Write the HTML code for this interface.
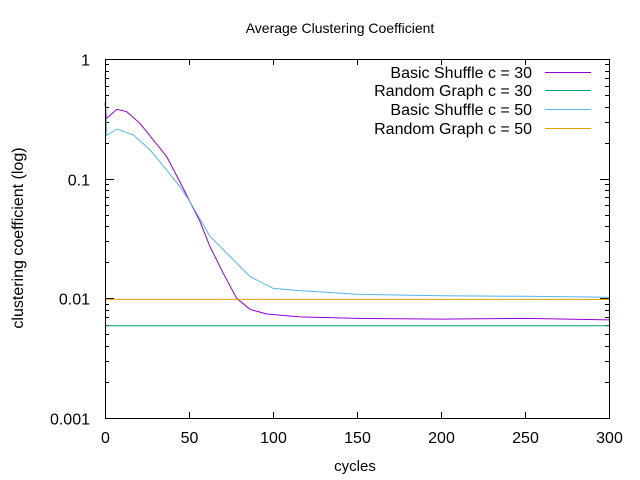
<!DOCTYPE html>
<html><head><meta charset="utf-8"><style>
body{margin:0;background:#fff}
svg{display:block;font-family:"Liberation Sans",sans-serif}
</style></head><body>
<svg id="c" width="640" height="480" xmlns="http://www.w3.org/2000/svg"></svg>
<script>
const xTicks=[0,50,100,150,200,250,300];
const yTicks=[0.001,0.01,0.1,1];
const yTickLabels=["0.001","0.01","0.1","1"];
const bs30Cycles=[0,1,7,12.9,20.8,28.8,36.7,44.6,50.6,56.5,62.5,70.4,78.4,86.3,96.2,116,150,200,250,300];
const bs30Values=[0.43,0.32,0.38,0.363,0.29,0.21,0.153,0.094,0.064,0.044,0.027,0.0162,0.010,0.0081,0.0074,0.0070,0.0068,0.0067,0.0068,0.0066];
const bs50Cycles=[0,1,7,16.9,26.8,36.7,44.6,50.6,62.5,76.4,86.3,100.2,116,150,200,250,300];
const bs50Values=[0.76,0.23,0.26,0.232,0.174,0.118,0.086,0.064,0.033,0.021,0.0152,0.0121,0.0116,0.0108,0.0105,0.0104,0.0102];
const rg30Value=0.0059;
const rg50Value=0.0098;
const seriesNames=["Basic Shuffle c = 30","Random Graph c = 30","Basic Shuffle c = 50","Random Graph c = 50"];
const seriesColors=["#9400d3","#009e73","#56b4e9","#e69f00"];

const L=105,R=609,T=59,B=418;
const sx=v=>L+(v-0)/(300-0)*(R-L);
const sy=v=>B-(Math.log10(v)+3)/3*(B-T);
const svg=document.getElementById('c');
const NS="http://www.w3.org/2000/svg";
function mk(tag,attrs,parent){const e=document.createElementNS(NS,tag);for(const k in attrs)e.setAttribute(k,attrs[k]);(parent||svg).appendChild(e);return e;}
function txt(s,x,y,anchor,name,extra){const t=mk('text',Object.assign({x:x,y:y,'text-anchor':anchor,'font-size':16,fill:'#000'},extra||{}));t.textContent=s;


return t;}

const ax=mk('g',{stroke:'#000','stroke-width':1,fill:'none'});


xTicks.forEach((v,i)=>{const x=Math.round(sx(v))+0.5;
 mk('line',{x1:x,y1:B,x2:x,y2:B-6},ax);mk('line',{x1:x,y1:T,x2:x,y2:T+6},ax);
 txt(String(v),x,B+25,'middle','x-tick-label');});
yTicks.forEach((v,i)=>{const y=Math.round(sy(v))+0.5;
 mk('line',{x1:L,y1:y,x2:L+9,y2:y},ax);mk('line',{x1:R,y1:y,x2:R-9,y2:y},ax);
 txt(yTickLabels[i],90,y+6,'end','y-tick-label');
 if(i<yTicks.length-1){for(let m=2;m<=9;m++){const yy=Math.round(sy(v*m))+0.5;
  mk('line',{x1:L,y1:yy,x2:L+4,y2:yy},ax);mk('line',{x1:R,y1:yy,x2:R-4,y2:yy},ax);}}});

function poly(xs,ys,color,name){const pts=xs.map((c,i)=>sx(c).toFixed(1)+','+sy(ys[i]).toFixed(1)).join(' ');
 const p=mk('polyline',{points:pts,fill:'none',stroke:color,'stroke-width':1});
 
 }
poly(bs30Cycles,bs30Values,seriesColors[0],'series-basic-shuffle-c30');
poly([0,300],[rg30Value,rg30Value],seriesColors[1],'series-random-graph-c30');
poly(bs50Cycles,bs50Values,seriesColors[2],'series-basic-shuffle-c50');
poly([0,300],[rg50Value,rg50Value],seriesColors[3],'series-random-graph-c50');

mk('rect',{x:L+0.5,y:T+0.5,width:R-L,height:B-T,fill:'none',stroke:'#000'});

const legY=[72,90,109,128];
seriesNames.forEach((n,i)=>{
 txt(n,532,legY[i]+6,'end','legend-label');
 const l=mk('line',{x1:545,y1:legY[i]+0.5,x2:591,y2:legY[i]+0.5,stroke:seriesColors[i]});
 
 });

txt('Average Clustering Coefficient',340,33,'middle','chart-title',{'font-size':14});
txt('cycles',355,471,'middle','x-axis-title',{'font-size':15});
txt('clustering coefficient (log)',23,238,'middle','y-axis-title',{transform:'rotate(-90 23 238)'});
</script>
</body></html>
